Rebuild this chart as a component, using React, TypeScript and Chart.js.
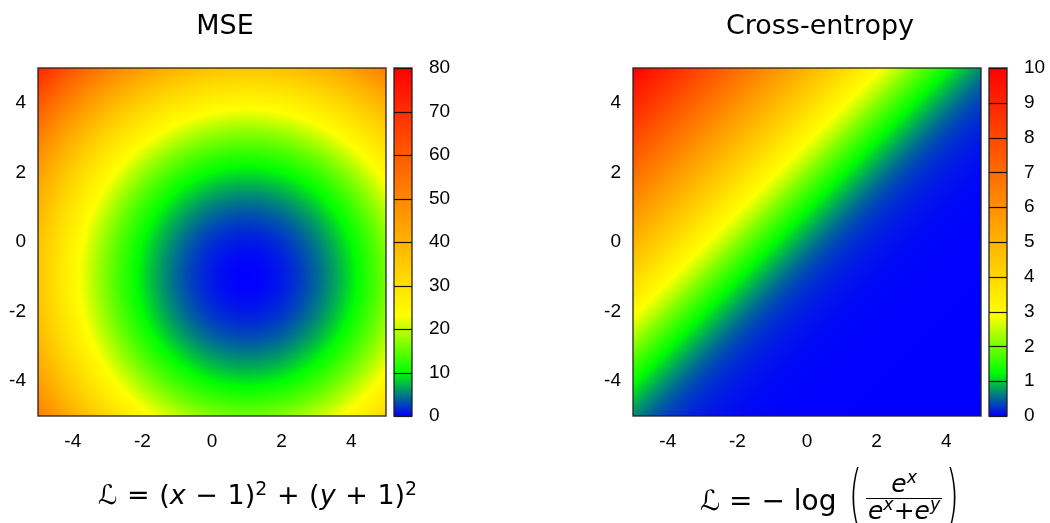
import React, { useEffect, useRef } from 'react';
import { Chart, registerables } from 'chart.js';

Chart.register(...registerables);

// ---- data ----
const AXIS_MIN = -5;
const AXIS_MAX = 5;
const AXIS_TICKS = [-4, -2, 0, 2, 4];

const MSE_CENTER = [1, -1];
const MSE_CB_RANGE = [0, 80];
const MSE_CB_TICKS = [0, 10, 20, 30, 40, 50, 60, 70, 80];

// Cross-entropy: L = -log(e^x / (e^x + e^y))
const CE_CB_RANGE = [0, 10];
const CE_CB_TICKS = [0, 1, 2, 3, 4, 5, 6, 7, 8, 9, 10];

// colour palette (fraction of colour range -> rgb)
const PALETTE_POS = [0, 0.125, 0.29, 1];
const PALETTE_RGB = [
  [0, 0, 255],
  [0, 255, 0],
  [255, 255, 0],
  [255, 0, 0],
];

const GRID_N = 348;

const mseFn = (x: number, y: number) =>
  (x - MSE_CENTER[0]) ** 2 + (y - MSE_CENTER[1]) ** 2;
const ceFn = (x: number, y: number) => -Math.log(Math.exp(x) / (Math.exp(x) + Math.exp(y)));

function palette(f: number): number[] {
  const t = Math.max(0, Math.min(1, f));
  for (let i = 1; i < PALETTE_POS.length; i++) {
    if (t <= PALETTE_POS[i]) {
      const a = PALETTE_POS[i - 1];
      const b = PALETTE_POS[i];
      const u = (t - a) / (b - a);
      const c0 = PALETTE_RGB[i - 1];
      const c1 = PALETTE_RGB[i];
      return [0, 1, 2].map((k) => Math.round(c0[k] + (c1[k] - c0[k]) * u));
    }
  }
  return PALETTE_RGB[PALETTE_RGB.length - 1];
}

function buildImage(fn: (x: number, y: number) => number, range: number[]) {
  const c = document.createElement('canvas');
  c.width = GRID_N;
  c.height = GRID_N;
  const ctx = c.getContext('2d')!;
  const img = ctx.createImageData(GRID_N, GRID_N);
  const step = (AXIS_MAX - AXIS_MIN) / GRID_N;
  for (let j = 0; j < GRID_N; j++) {
    const y = AXIS_MAX - (j + 0.5) * step;
    for (let i = 0; i < GRID_N; i++) {
      const x = AXIS_MIN + (i + 0.5) * step;
      const v = fn(x, y);
      const col = palette((v - range[0]) / (range[1] - range[0]));
      const p = (j * GRID_N + i) * 4;
      img.data[p] = col[0];
      img.data[p + 1] = col[1];
      img.data[p + 2] = col[2];
      img.data[p + 3] = 255;
    }
  }
  ctx.putImageData(img, 0, 0);
  return c;
}

const TICK_FONT = { family: '"Liberation Sans", Arial, sans-serif', size: 19 };
const BORDER = 'rgba(30,30,30,0.85)';

function makeChart(
  canvas: HTMLCanvasElement,
  fn: (x: number, y: number) => number,
  range: number[],
  cbTicks: number[],
  leftW: number,
  rightW: number
) {
  const image = buildImage(fn, range);
  const heatmap = {
    id: 'heatmap',
    beforeDatasetsDraw(chart: any) {
      const { ctx, scales, chartArea } = chart;
      const x0 = scales.x.getPixelForValue(AXIS_MIN);
      const x1 = scales.x.getPixelForValue(AXIS_MAX);
      const y0 = scales.y.getPixelForValue(AXIS_MAX);
      const y1 = scales.y.getPixelForValue(AXIS_MIN);
      ctx.save();
      ctx.imageSmoothingEnabled = true;
      ctx.drawImage(image, x0, y0, x1 - x0, y1 - y0);
      ctx.strokeStyle = BORDER;
      ctx.lineWidth = 1.5;
      ctx.strokeRect(x0, y0, x1 - x0, y1 - y0);

      // colour bar
      const cb = scales.cb;
      const cTop = cb.getPixelForValue(range[1]);
      const cBot = cb.getPixelForValue(range[0]);
      const cx0 = chartArea.right + 8;
      const cx1 = chartArea.right + 26;
      const grad = ctx.createLinearGradient(0, cBot, 0, cTop);
      PALETTE_POS.forEach((p, i) => {
        const c = PALETTE_RGB[i];
        grad.addColorStop(p, `rgb(${c[0]},${c[1]},${c[2]})`);
      });
      ctx.fillStyle = grad;
      ctx.fillRect(cx0, cTop, cx1 - cx0, cBot - cTop);
      ctx.strokeStyle = 'rgba(0,0,0,0.9)';
      ctx.lineWidth = 1.2;
      cbTicks.forEach((v) => {
        const py = Math.round(cb.getPixelForValue(v)) + 0.5;
        ctx.beginPath();
        ctx.moveTo(cx0, py);
        ctx.lineTo(cx1, py);
        ctx.stroke();
      });
      ctx.strokeStyle = BORDER;
      ctx.lineWidth = 1.5;
      ctx.strokeRect(cx0, cTop, cx1 - cx0, cBot - cTop);
      ctx.restore();
    },
  };

  const setTicks = (vals: number[]) => (s: any) => {
    s.ticks = vals.map((v) => ({ value: v }));
  };

  return new Chart(canvas, {
    type: 'scatter',
    data: { datasets: [{ data: [] }] },
    options: {
      animation: false,
      responsive: false,
      layout: { padding: { top: 68, left: 0, right: 0, bottom: 0 } },
      plugins: {
        legend: { display: false },
        tooltip: { enabled: false },
        title: { display: false },
      },
      scales: {
        x: {
          type: 'linear',
          position: 'bottom',
          min: AXIS_MIN,
          max: AXIS_MAX,
          afterBuildTicks: setTicks(AXIS_TICKS),
          afterFit: (s: any) => {
            s.height = 523 - 416;
          },
          grid: { display: false, drawTicks: false },
          border: { display: false },
          ticks: { font: TICK_FONT, color: '#000', padding: 14, maxRotation: 0, autoSkip: false },
        },
        y: {
          type: 'linear',
          position: 'left',
          min: AXIS_MIN,
          max: AXIS_MAX,
          afterBuildTicks: setTicks(AXIS_TICKS),
          afterFit: (s: any) => {
            s.width = leftW;
          },
          grid: { display: false, drawTicks: false },
          border: { display: false },
          ticks: { font: TICK_FONT, color: '#000', padding: 12, autoSkip: false },
        },
        cb: {
          type: 'linear',
          position: 'right',
          min: range[0],
          max: range[1],
          afterBuildTicks: setTicks(cbTicks),
          afterFit: (s: any) => {
            s.width = rightW;
          },
          grid: { display: false, drawTicks: false },
          border: { display: false },
          ticks: { font: TICK_FONT, color: '#000', padding: 43, autoSkip: false },
        },
      },
    } as any,
    plugins: [heatmap],
  });
}

const MATH_FONT = '"DejaVu Sans", sans-serif';

function Sup({ children }: { children: React.ReactNode }) {
  return (
    <span style={{ fontSize: '0.7em', position: 'relative', top: '-0.5em' }}>{children}</span>
  );
}

const parenStyle: React.CSSProperties = {
  fontSize: 68,
  fontWeight: 200,
  display: 'inline-block',
  transform: 'scaleX(0.5)',
  lineHeight: '68px',
  margin: '0 -3px',
};

export default function App() {
  const leftRef = useRef<HTMLCanvasElement>(null);
  const rightRef = useRef<HTMLCanvasElement>(null);

  useEffect(() => {
    const a = makeChart(leftRef.current!, mseFn, MSE_CB_RANGE, MSE_CB_TICKS, 38, 525 - 386);
    const b = makeChart(rightRef.current!, ceFn, CE_CB_RANGE, CE_CB_TICKS, 633 - 525, 525 - 456);
    return () => {
      a.destroy();
      b.destroy();
    };
  }, []);

  const titleStyle: React.CSSProperties = {
    position: 'absolute',
    top: 11,
    width: 300,
    textAlign: 'center',
    font: `27px ${MATH_FONT}`,
    lineHeight: '27px',
    color: '#000',
    whiteSpace: 'nowrap',
  };

  return (
    <div
      style={{
        position: 'absolute',
        left: 0,
        top: 0,
        width: 1050,
        height: 523,
        background: '#fff',
        overflow: 'hidden',
      }}
    >
      <canvas
        ref={leftRef}
        width={525}
        height={523}
        style={{ position: 'absolute', left: 0, top: 0, width: 525, height: 523 }}
      />
      <canvas
        ref={rightRef}
        width={525}
        height={523}
        style={{ position: 'absolute', left: 525, top: 0, width: 525, height: 523 }}
      />
      <div style={{ ...titleStyle, left: 225 - 150 }}>MSE</div>
      <div style={{ ...titleStyle, left: 820 - 150 }}>Cross-entropy</div>

      <div
        style={{
          position: 'absolute',
          left: 98,
          top: 477,
          font: `27px ${MATH_FONT}`,
          lineHeight: '36px',
          whiteSpace: 'nowrap',
          color: '#000',
          wordSpacing: '1px',
        }}
      >
        ℒ = (<i>x</i> − 1)<Sup>2</Sup> + (<i>y</i> + 1)<Sup>2</Sup>
      </div>

      <div
        style={{
          position: 'absolute',
          left: 700,
          top: 462,
          height: 68,
          display: 'flex',
          alignItems: 'center',
          font: `28px ${MATH_FONT}`,
          whiteSpace: 'nowrap',
          color: '#000',
        }}
      >
        <span style={{ position: 'relative', top: 4 }}>ℒ = − log&nbsp;</span>
        <span style={parenStyle}>(</span>
        <span
          style={{
            display: 'inline-flex',
            flexDirection: 'column',
            alignItems: 'center',
            fontSize: 25,
            lineHeight: '24px',
            position: 'relative',
            top: 2,
          }}
        >
          <span style={{ padding: '0 2px' }}>
            <i>e</i>
            <Sup>
              <i>x</i>
            </Sup>
          </span>
          <span style={{ borderTop: '1.5px solid #000', padding: '0 2px' }}>
            <i>e</i>
            <Sup>
              <i>x</i>
            </Sup>
            +<i>e</i>
            <Sup>
              <i>y</i>
            </Sup>
          </span>
        </span>
        <span style={parenStyle}>)</span>
      </div>
    </div>
  );
}
